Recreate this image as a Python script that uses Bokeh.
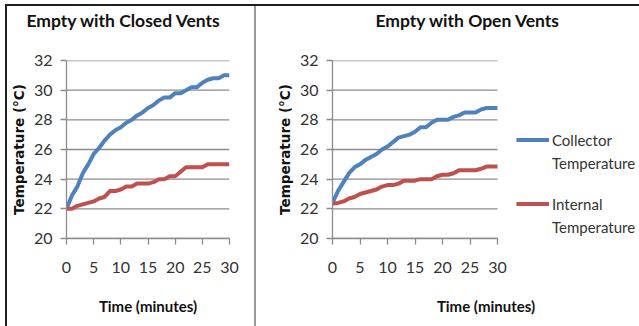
from bokeh.plotting import figure
from bokeh.layouts import row, column
from bokeh.models import Legend, LegendItem, Range1d, FixedTicker, Title, Div
from bokeh.embed import file_html
from bokeh.resources import INLINE

time_min = list(range(31))

closed_collector = [22.0, 22.9, 23.5, 24.4, 25.0, 25.7, 26.1, 26.6, 27.0, 27.3, 27.5,
                    27.8, 28.0, 28.3, 28.5, 28.8, 29.0, 29.3, 29.5, 29.5, 29.8,
                    29.8, 30.0, 30.2, 30.2, 30.5, 30.7, 30.8, 30.8, 31.0, 31.0]
closed_internal = [22.0, 22.0, 22.2, 22.3, 22.4, 22.5, 22.7, 22.8, 23.2, 23.2, 23.3,
                   23.5, 23.5, 23.7, 23.7, 23.7, 23.8, 24.0, 24.0, 24.2, 24.2,
                   24.5, 24.8, 24.8, 24.8, 24.8, 25.0, 25.0, 25.0, 25.0, 25.0]
open_collector = [22.4, 23.2, 23.8, 24.4, 24.8, 25.0, 25.3, 25.5, 25.7, 26.0, 26.2,
                  26.5, 26.8, 26.9, 27.0, 27.2, 27.5, 27.5, 27.8, 28.0, 28.0,
                  28.0, 28.2, 28.3, 28.5, 28.5, 28.5, 28.7, 28.8, 28.8, 28.8]
open_internal = [22.35, 22.4, 22.5, 22.7, 22.8, 23.0, 23.1, 23.2, 23.3, 23.5, 23.6,
                 23.6, 23.7, 23.9, 23.9, 23.9, 24.0, 24.0, 24.0, 24.2, 24.3,
                 24.3, 24.4, 24.6, 24.6, 24.6, 24.6, 24.7, 24.85, 24.85, 24.85]

x_ticks = [0, 5, 10, 15, 20, 25, 30]
y_ticks = [20, 22, 24, 26, 28, 30, 32]
titles = ["Empty with Closed Vents", "Empty with Open Vents"]
x_label = "Time (minutes)"
y_label = "Temperature (°C)"
legend_names = ["Collector", "Internal", "Temperature"]

BLUE = "#4F81BD"
RED = "#C0504D"
TXT = "#333333"
GRID = "#8C8C8C"


def make_fig(width, height, mb, x_end, title, title_offset, collector, internal):
    p = figure(width=width, height=height, output_backend="svg", toolbar_location=None,
               x_range=Range1d(0, x_end), y_range=Range1d(20, 32), title=None,
               min_border_left=mb[0], min_border_right=mb[1],
               min_border_top=mb[2], min_border_bottom=mb[3], margin=0)
    p.outline_line_color = None
    p.background_fill_color = "white"
    p.border_fill_color = "white"
    p.xgrid.visible = False
    p.ygrid.visible = False
    p.segment(x0=x_ticks[0], x1=x_ticks[-1], y0=y_ticks, y1=y_ticks,
              line_color=GRID, line_width=1.3)
    for ax in (p.xaxis[0], p.yaxis[0]):
        ax.axis_line_color = GRID
        ax.axis_line_width = 1.3
        ax.major_tick_line_color = GRID
        ax.major_tick_line_width = 1.3
        ax.major_tick_in = 0
        ax.major_tick_out = 6
        ax.minor_tick_line_color = None
        ax.major_label_text_font = "Lato"
        ax.major_label_text_font_size = "16px"
        ax.major_label_text_color = TXT
        ax.axis_label_text_font_style = "bold"
        ax.axis_label_text_color = "#111111"
    p.xaxis[0].bounds = (x_ticks[0], x_ticks[-1])
    p.xaxis[0].ticker = FixedTicker(ticks=x_ticks)
    p.yaxis[0].ticker = FixedTicker(ticks=y_ticks)
    p.xaxis[0].major_label_standoff = 17
    p.yaxis[0].major_label_standoff = 8
    p.xaxis[0].axis_label = x_label
    p.xaxis[0].axis_label_text_font = "Lato"
    p.xaxis[0].axis_label_text_font_size = "15px"
    p.xaxis[0].axis_label_standoff = 21
    p.yaxis[0].axis_label = y_label
    p.yaxis[0].axis_label_text_font = "DejaVu Sans"
    p.yaxis[0].axis_label_text_font_size = "13.5px"
    p.yaxis[0].axis_label_standoff = 4

    r1 = p.line(time_min, collector, line_color=BLUE, line_width=4, line_join="round")
    r2 = p.line(time_min, internal, line_color=RED, line_width=4, line_join="round")

    p.add_layout(Title(text=" ", text_font_size="16px", standoff=11), "above")
    p.add_layout(Title(text=title, align="left", offset=title_offset,
                       text_font="Lato", text_font_style="bold", text_font_size="17.5px",
                       text_color="#111111", standoff=0), "above")
    return p, r1, r2


p1, a1, a2 = make_fig(247, 320, (58, 25, 54, 86), 30, titles[0], -40,
                      closed_collector, closed_internal)
p2, b1, b2 = make_fig(383, 320, (76, 0, 53, 88), 30 * 307 / 165, titles[1], 43,
                      open_collector, open_internal)

dummy1 = p2.line(x=[], y=[], line_alpha=0)
dummy2 = p2.line(x=[], y=[], line_alpha=0)

for items, loc in (([LegendItem(label=legend_names[0], renderers=[b1]),
                     LegendItem(label=legend_names[2], renderers=[dummy1])], (184, 64)),
                   ([LegendItem(label=legend_names[1], renderers=[b2]),
                     LegendItem(label=legend_names[2], renderers=[dummy2])], (184, 0))):
    lg = Legend(items=items, location=loc, orientation="vertical",
                glyph_width=33, glyph_height=23, label_height=23, label_standoff=3,
                spacing=0, padding=0, margin=0,
                label_text_font="Lato", label_text_font_size="15px",
                label_text_color=TXT, border_line_alpha=0, background_fill_alpha=0)
    p2.add_layout(lg, "center")

top_gap = Div(width=639, height=4, margin=0)
left_gap = Div(width=5, height=322, margin=0)
left_border = Div(width=2, height=322, margin=0, styles={"background-color": "#1e1e1e"})
top_border = Div(width=632, height=2, margin=0, styles={"background-color": "#1e1e1e"})
separator = Div(width=2, height=320, margin=0, styles={"background-color": "#9a9a9a"})

root = column(top_gap,
              row(left_gap, left_border,
                  column(top_border, row(p1, separator, p2, spacing=0, margin=0),
                         spacing=0, margin=0),
                  spacing=0, margin=0),
              spacing=0, margin=0)

open("out.html", "w").write(file_html(root, INLINE))
